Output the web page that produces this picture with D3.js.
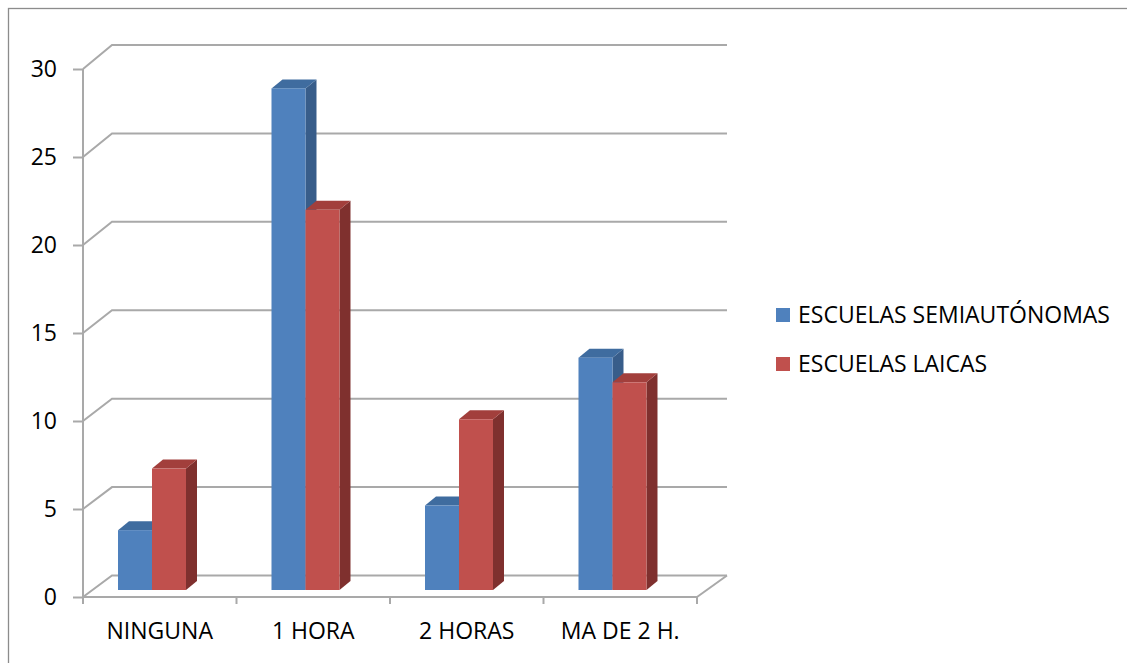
<!DOCTYPE html>
<html><head><meta charset="utf-8">
<script src="https://cdn.jsdelivr.net/npm/d3@7"></script>
<style>html,body{margin:0;padding:0;background:#fff;}svg{display:block;}</style>
</head><body>
<svg id="c" width="1127" height="663"></svg>
<script>
const categories = ["NINGUNA", "1 HORA", "2 HORAS", "MA DE 2 H."];
const seriesNames = ["ESCUELAS SEMIAUTÓNOMAS", "ESCUELAS LAICAS"];
const semiautonomas = [3.4, 28.5, 4.8, 13.2];
const laicas = [6.9, 21.6, 9.7, 11.8];
const yTicks = [0, 5, 10, 15, 20, 25, 30];

const colors = [
  {front:"#4f81bd", top:"#3f6c9f", side:"#385d8a"},
  {front:"#c0504d", top:"#a23f3c", side:"#7f302e"}
];
const FONT = "'Open Sans', sans-serif";
const FS = 23;
const svg = d3.select("#c");

// outer border (right/bottom edges fall outside the picture)
svg.append("rect").attr("x",8.5).attr("y",8.5).attr("width",1200).attr("height",700)
  .attr("fill","none").attr("stroke","#8c8c8c").attr("stroke-width",1.3);

const X0 = 83, X1 = 697, DX = 29;
const x = d3.scaleBand().domain(categories).range([X0, X1]).paddingInner(0).paddingOuter(0);
const yFront = d3.scaleLinear().domain([0,30]).range([597, 69]);
const yBack = d3.scaleLinear().domain([0,30]).range([575.5, 45]);
const yBar = d3.scaleLinear().domain([0,30]).range([590, 590 - 30*17.6]);
const bw = x.bandwidth();
const xs = d3.scaleBand().domain(seriesNames).range([0.228*bw, 0.228*bw + 2*34]);

const gridColor = "#a9a9a9";
const grid = svg.append("g").attr("fill","none").attr("stroke",gridColor).attr("stroke-width",2);
yTicks.forEach(v => {
  grid.append("path").attr("d", d3.line()([[X0, yFront(v)], [X0+DX, yBack(v)], [X1+DX+1, yBack(v)]]));
});
grid.append("path").attr("d", d3.line()([[X1, yFront(0)], [X1+DX+1, yBack(0)]]));

// y axis
const yAxis = svg.append("g").attr("transform",`translate(${X0},0)`)
  .call(d3.axisLeft(yFront).tickValues(yTicks).tickSize(10).tickPadding(6).tickSizeOuter(0));
yAxis.select(".domain").attr("stroke",gridColor).attr("stroke-width",2).attr("d", `M0,${yFront(30)}V${yFront(0)+7}`);
yAxis.selectAll(".tick line").attr("stroke",gridColor).attr("stroke-width",2);
yAxis.selectAll(".tick text").attr("font-family",FONT).attr("font-size",FS).attr("fill","#000").attr("x",-26);

// x axis line and boundary ticks
const xAxis = svg.append("g");
xAxis.append("path").attr("d", `M${X0},${yFront(0)}H${X1}`).attr("stroke",gridColor).attr("stroke-width",2);
const bounds = categories.map(c => x(c)).concat([X1]);
xAxis.selectAll("line.bt").data(bounds).join("line").attr("class","bt")
  .attr("x1",d=>d).attr("x2",d=>d).attr("y1",yFront(0)).attr("y2",yFront(0)+7)
  .attr("stroke",gridColor).attr("stroke-width",2);
xAxis.selectAll("text").data(categories).join("text")
  .attr("x", d => x(d) + bw/2).attr("y", 639)
  .attr("text-anchor","middle").attr("font-family",FONT).attr("font-size",FS).attr("fill","#000")
  .text(d => d);

// bars
const BDX = 11, BDY = 9, BW = 34;
const data = [semiautonomas, laicas];
const bars = svg.append("g");
categories.forEach((c, i) => {
  data.forEach((vals, s) => {
    const v = vals[i];
    const x0 = x(c) + xs(seriesNames[s]), x1 = x0 + BW;
    const yt = yBar(v), yb = yBar(0);
    const g = bars.append("g");
    g.append("path").attr("fill", colors[s].side)
      .attr("d", d3.line()([[x1,yt],[x1+BDX,yt-BDY],[x1+BDX,yb-BDY],[x1,yb]]) + "Z");
    g.append("path").attr("fill", colors[s].top)
      .attr("d", d3.line()([[x0,yt],[x0+BDX,yt-BDY],[x1+BDX,yt-BDY],[x1,yt]]) + "Z");
    g.append("rect").attr("fill", colors[s].front)
      .attr("x", x0).attr("y", yt).attr("width", BW).attr("height", yb - yt);
  });
});

// legend
const legend = svg.append("g");
const legY = [308, 357];
seriesNames.forEach((n, s) => {
  legend.append("rect").attr("x",776).attr("y",legY[s]).attr("width",14).attr("height",14).attr("fill",colors[s].front);
  legend.append("text").attr("x",798).attr("y",legY[s]+15).attr("font-family",FONT).attr("font-size",FS)
    .attr("fill","#000").text(n);
});
</script>
</body></html>
